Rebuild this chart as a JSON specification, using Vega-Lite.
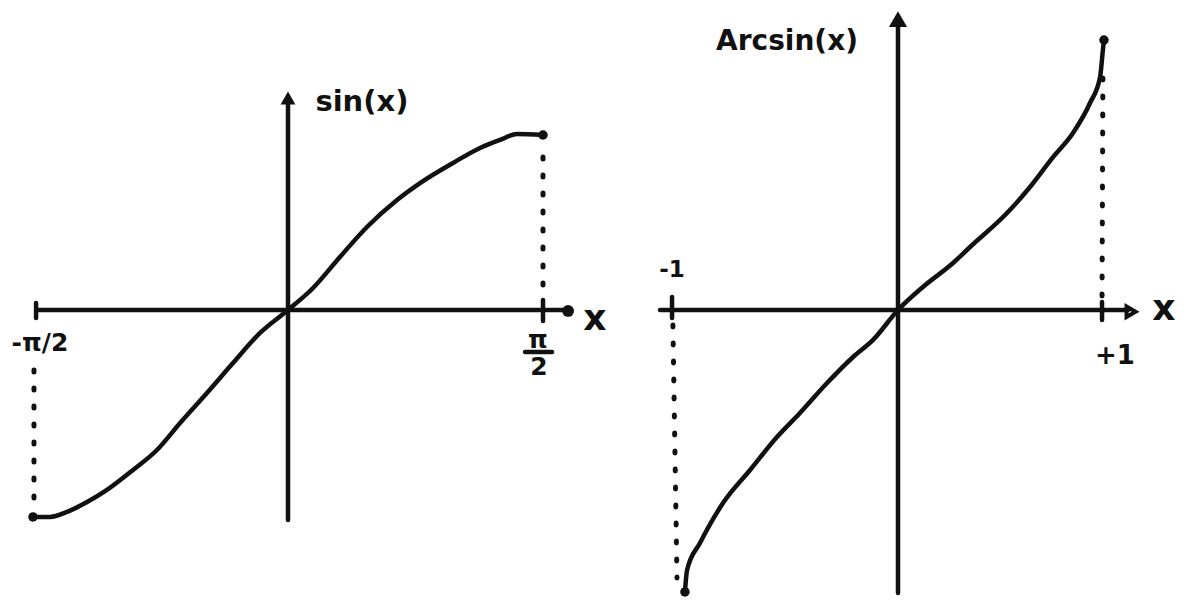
{
  "$schema": "https://vega.github.io/schema/vega-lite/v6.json",
  "padding": 0,
  "background": "white",
  "config": {"view": {"stroke": null}, "concat": {"spacing": 0}},
  "spacing": 0,
  "datasets": {
    "sinCurve": [
      {"i": 0, "x": -1.576, "y": -1.089},
      {"i": 1, "x": -1.471, "y": -1.089},
      {"i": 2, "x": -1.366, "y": -1.063},
      {"i": 3, "x": -1.242, "y": -1.011},
      {"i": 4, "x": -1.119, "y": -0.947},
      {"i": 5, "x": -0.958, "y": -0.842},
      {"i": 6, "x": -0.81, "y": -0.737},
      {"i": 7, "x": -0.667, "y": -0.595},
      {"i": 8, "x": -0.501, "y": -0.437},
      {"i": 9, "x": -0.34, "y": -0.279},
      {"i": 10, "x": -0.173, "y": -0.121},
      {"i": 11, "x": 0.0, "y": 0.0},
      {"i": 12, "x": 0.155, "y": 0.116},
      {"i": 13, "x": 0.321, "y": 0.279},
      {"i": 14, "x": 0.488, "y": 0.437},
      {"i": 15, "x": 0.674, "y": 0.579},
      {"i": 16, "x": 0.816, "y": 0.668},
      {"i": 17, "x": 1.02, "y": 0.774},
      {"i": 18, "x": 1.187, "y": 0.853},
      {"i": 19, "x": 1.31, "y": 0.895},
      {"i": 20, "x": 1.415, "y": 0.926},
      {"i": 21, "x": 1.576, "y": 0.921}
    ],
    "sinAxes": [
      {"id": "yaxis", "i": 0, "x": 0, "y": -1.105},
      {"id": "yaxis", "i": 1, "x": 0, "y": 1.105},
      {"id": "xaxis", "i": 0, "x": -1.545, "y": 0},
      {"id": "xaxis", "i": 1, "x": 1.7, "y": 0},
      {"id": "tickL", "i": 0, "x": -1.557, "y": 0.037},
      {"id": "tickL", "i": 1, "x": -1.557, "y": -0.042},
      {"id": "tickR", "i": 0, "x": 1.576, "y": 0.053},
      {"id": "tickR", "i": 1, "x": 1.576, "y": -0.058},
      {"id": "fracbar", "i": 0, "x": 1.465, "y": -0.221},
      {"id": "fracbar", "i": 1, "x": 1.632, "y": -0.221}
    ],
    "sinDotted": [
      {"id": "right", "i": 0, "x": 1.576, "y": 0.805},
      {"id": "right", "i": 1, "x": 1.576, "y": 0.053},
      {"id": "left", "i": 0, "x": -1.57, "y": -0.316},
      {"id": "left", "i": 1, "x": -1.57, "y": -1.037}
    ],
    "sinEnds": [
      {"x": -1.576, "y": -1.089},
      {"x": 1.576, "y": 0.921}
    ],
    "arcCurve": [
      {"i": 0, "x": -0.991, "y": -1.602},
      {"i": 1, "x": -0.981, "y": -1.477},
      {"i": 2, "x": -0.921, "y": -1.324},
      {"i": 3, "x": -0.814, "y": -1.097},
      {"i": 4, "x": -0.688, "y": -0.909},
      {"i": 5, "x": -0.563, "y": -0.722},
      {"i": 6, "x": -0.456, "y": -0.585},
      {"i": 7, "x": -0.33, "y": -0.415},
      {"i": 8, "x": -0.209, "y": -0.267},
      {"i": 9, "x": -0.116, "y": -0.17},
      {"i": 10, "x": 0.0, "y": 0.0},
      {"i": 11, "x": 0.116, "y": 0.131},
      {"i": 12, "x": 0.256, "y": 0.267},
      {"i": 13, "x": 0.335, "y": 0.358},
      {"i": 14, "x": 0.507, "y": 0.551},
      {"i": 15, "x": 0.614, "y": 0.699},
      {"i": 16, "x": 0.721, "y": 0.869},
      {"i": 17, "x": 0.814, "y": 1.006},
      {"i": 18, "x": 0.893, "y": 1.176},
      {"i": 19, "x": 0.94, "y": 1.324},
      {"i": 20, "x": 0.953, "y": 1.477},
      {"i": 21, "x": 0.958, "y": 1.534}
    ],
    "arcAxes": [
      {"id": "yaxis", "i": 0, "x": 0, "y": -1.608},
      {"id": "yaxis", "i": 1, "x": 0, "y": 1.62},
      {"id": "xaxis", "i": 0, "x": -1.107, "y": 0},
      {"id": "xaxis", "i": 1, "x": 1.07, "y": 0},
      {"id": "tickL", "i": 0, "x": -1.051, "y": 0.074},
      {"id": "tickL", "i": 1, "x": -1.051, "y": -0.045},
      {"id": "tickR", "i": 0, "x": 0.949, "y": 0.045},
      {"id": "tickR", "i": 1, "x": 0.949, "y": -0.057}
    ],
    "arcDotted": [
      {"id": "right", "i": 0, "x": 0.953, "y": 1.318},
      {"id": "right", "i": 1, "x": 0.949, "y": 0.057},
      {"id": "left", "i": 0, "x": -1.047, "y": -0.085},
      {"id": "left", "i": 1, "x": -1.028, "y": -1.523}
    ],
    "arcEnds": [
      {"x": 0.958, "y": 1.534},
      {"x": -0.991, "y": -1.602}
    ]
  },
  "hconcat": [
    {
      "width": 630,
      "height": 609,
      "encoding": {
        "x": {"field": "x", "type": "quantitative", "scale": {"domain": [-1.77998, 2.11372], "nice": false, "zero": false}, "axis": null},
        "y": {"field": "y", "type": "quantitative", "scale": {"domain": [-1.57368, 1.63158], "nice": false, "zero": false}, "axis": null}
      },
      "layer": [
        {
          "data": {"name": "sinAxes"},
          "mark": {"type": "line", "color": "#111", "strokeWidth": 4.5, "strokeCap": "round"},
          "encoding": {"detail": {"field": "id"}, "order": {"field": "i"}}
        },
        {
          "data": {"name": "sinDotted"},
          "mark": {"type": "line", "color": "#111", "strokeWidth": 5, "strokeCap": "round", "strokeDash": [2, 16]},
          "encoding": {"detail": {"field": "id"}, "order": {"field": "i"}}
        },
        {
          "data": {"name": "sinCurve"},
          "mark": {"type": "line", "color": "#111", "strokeWidth": 4.5, "strokeCap": "round", "strokeJoin": "round", "interpolate": "monotone"},
          "encoding": {"order": {"field": "i"}}
        },
        {
          "data": {"name": "sinEnds"},
          "mark": {"type": "point", "filled": true, "color": "#111", "size": 90, "opacity": 1}
        },
        {
          "data": {"values": [{"x": 0, "y": 1.116}]},
          "mark": {"type": "point", "shape": "triangle-up", "filled": true, "color": "#111", "size": 220, "opacity": 1}
        },
        {
          "data": {"values": [{"x": 1.731, "y": -0.005}]},
          "mark": {"type": "point", "shape": "circle", "filled": true, "color": "#111", "size": 140, "opacity": 1}
        },
        {
          "data": {"values": [{"x": 0.457, "y": 1.095, "label": "sin(x)"}]},
          "mark": {"type": "text", "font": "DejaVu Sans", "fontWeight": "bold", "fontSize": 29, "color": "#111", "baseline": "middle", "align": "center"},
          "encoding": {"text": {"field": "label"}}
        },
        {
          "data": {"values": [{"x": 1.897, "y": -0.047, "label": "x"}]},
          "mark": {"type": "text", "font": "DejaVu Sans", "fontWeight": "bold", "fontSize": 36, "color": "#111", "baseline": "middle", "align": "center"},
          "encoding": {"text": {"field": "label"}}
        },
        {
          "data": {"values": [{"x": 1.545, "y": -0.158, "label": "π"}, {"x": 1.551, "y": -0.3, "label": "2"}, {"x": -1.533, "y": -0.174, "label": "-π/2"}]},
          "mark": {"type": "text", "font": "DejaVu Sans", "fontWeight": "bold", "fontSize": 25, "color": "#111", "baseline": "middle", "align": "center"},
          "encoding": {"text": {"field": "label"}}
        }
      ]
    },
    {
      "width": 558,
      "height": 609,
      "encoding": {
        "x": {"field": "x", "type": "quantitative", "scale": {"domain": [-1.24651, 1.34884], "nice": false, "zero": false}, "axis": null},
        "y": {"field": "y", "type": "quantitative", "scale": {"domain": [-1.69886, 1.76136], "nice": false, "zero": false}, "axis": null}
      },
      "layer": [
        {
          "data": {"name": "arcAxes"},
          "mark": {"type": "line", "color": "#111", "strokeWidth": 4.5, "strokeCap": "round"},
          "encoding": {"detail": {"field": "id"}, "order": {"field": "i"}}
        },
        {
          "data": {"name": "arcDotted"},
          "mark": {"type": "line", "color": "#111", "strokeWidth": 5, "strokeCap": "round", "strokeDash": [2, 16]},
          "encoding": {"detail": {"field": "id"}, "order": {"field": "i"}}
        },
        {
          "data": {"name": "arcCurve"},
          "mark": {"type": "line", "color": "#111", "strokeWidth": 4.5, "strokeCap": "round", "strokeJoin": "round", "interpolate": "monotone"},
          "encoding": {"order": {"field": "i"}}
        },
        {
          "data": {"name": "arcEnds"},
          "mark": {"type": "point", "filled": true, "color": "#111", "size": 90, "opacity": 1}
        },
        {
          "data": {"values": [{"x": 0, "y": 1.653}]},
          "mark": {"type": "point", "shape": "triangle-up", "filled": true, "color": "#111", "size": 330, "opacity": 1}
        },
        {
          "data": {"values": [{"x": 1.084, "y": -0.01}]},
          "mark": {"type": "point", "shape": "triangle-right", "filled": false, "color": "#111", "strokeWidth": 4, "size": 110, "opacity": 1}
        },
        {
          "data": {"values": [{"x": -0.516, "y": 1.523, "label": "Arcsin(x)"}]},
          "mark": {"type": "text", "font": "DejaVu Sans", "fontWeight": "bold", "fontSize": 28, "color": "#111", "baseline": "middle", "align": "center"},
          "encoding": {"text": {"field": "label"}}
        },
        {
          "data": {"values": [{"x": -1.051, "y": 0.227, "label": "-1"}]},
          "mark": {"type": "text", "font": "DejaVu Sans", "fontWeight": "bold", "fontSize": 23, "color": "#111", "baseline": "middle", "align": "center"},
          "encoding": {"text": {"field": "label"}}
        },
        {
          "data": {"values": [{"x": 1.009, "y": -0.261, "label": "+1"}]},
          "mark": {"type": "text", "font": "DejaVu Sans", "fontWeight": "bold", "fontSize": 26, "color": "#111", "baseline": "middle", "align": "center"},
          "encoding": {"text": {"field": "label"}}
        },
        {
          "data": {"values": [{"x": 1.237, "y": 0.006, "label": "x"}]},
          "mark": {"type": "text", "font": "DejaVu Sans", "fontWeight": "bold", "fontSize": 36, "color": "#111", "baseline": "middle", "align": "center"},
          "encoding": {"text": {"field": "label"}}
        }
      ]
    }
  ]
}
